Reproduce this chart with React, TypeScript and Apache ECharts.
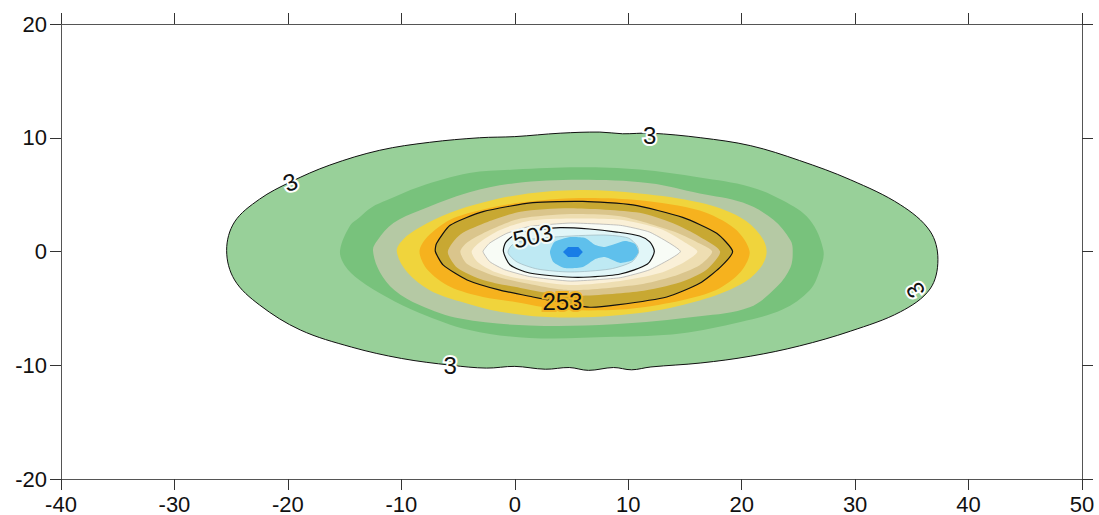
import React, { useEffect, useRef } from "react";
import * as echarts from "echarts";

// Axis ranges / ticks
const X_MIN = -40;
const X_MAX = 50;
const Y_MIN = -20;
const Y_MAX = 20;
const TICK_STEP = 10;

// Contour boundaries (data units), outer -> inner
const level3Outer: number[][] = [
  [-25.4, 0.1], [-24.7, 2.6], [-22.5, 4.6], [-19.8, 6.1], [-16.3, 7.6], [-11.9, 8.9], [-7.5, 9.6],
  [-3.1, 10.0], [0.0, 10.1], [4.0, 10.4], [7.5, 10.5], [9.5, 10.35], [12.0, 10.4], [16.4, 10.0],
  [20.8, 9.3], [25.1, 8.0], [29.6, 6.3], [34.0, 4.1], [36.6, 1.8], [37.3, -0.7], [36.6, -3.3],
  [34.0, -5.3], [29.6, -7.0], [25.1, -8.3], [20.8, -9.2], [16.4, -9.8], [12.0, -10.15], [10.3, -10.4],
  [8.7, -10.2], [6.5, -10.45], [4.8, -10.2], [2.7, -10.35], [0.0, -10.1], [-2.5, -10.25], [-5.6, -10.0],
  [-10.0, -9.4], [-14.4, -8.4], [-18.9, -6.9], [-22.5, -4.7], [-24.7, -2.5],
];
const bandMidGreen: number[][] = [
  [-15.4, 0.1], [-14.5, 2.3], [-13.7, 3.0], [-12.6, 3.9], [-11.3, 4.5], [-8.4, 5.7], [-4.0, 6.9],
  [0.0, 7.2], [5.7, 7.4], [11.0, 7.2], [16.3, 6.5], [20.7, 5.7], [23.6, 4.5], [26.0, 2.8],
  [27.2, 0.1], [26.9, -1.6], [26.0, -3.4], [23.6, -5.1], [19.9, -6.2], [14.6, -7.2], [8.7, -7.5],
  [1.3, -7.6], [-4.0, -6.9], [-8.4, -5.4], [-11.3, -4.0], [-13.7, -2.5], [-15.0, -1.2],
];
const bandGrey: number[][] = [
  [-12.5, 0.1], [-12.1, 1.0], [-10.7, 2.5], [-8.4, 3.6], [-4.0, 5.2], [0.0, 6.0], [5.7, 6.3],
  [11.9, 6.0], [16.3, 5.1], [20.1, 4.3], [22.8, 2.8], [24.3, 1.0], [24.5, 0.1], [24.3, -1.4],
  [23.1, -3.1], [20.7, -4.9], [16.3, -5.7], [8.7, -6.4], [1.3, -6.5], [-4.8, -5.9], [-8.4, -4.7],
  [-10.6, -3.4], [-11.9, -1.8],
];
const bandYellow: number[][] = [
  [-10.4, 0.0], [-9.9, 1.0], [-8.4, 2.1], [-5.7, 3.4], [-2.8, 4.3], [0.5, 5.0], [5.7, 5.4],
  [11.0, 5.1], [16.3, 4.3], [19.9, 3.0], [21.6, 1.5], [22.2, 0.0], [21.6, -1.5], [19.9, -2.9],
  [16.3, -4.3], [11.0, -5.4], [4.0, -5.8], [-1.3, -5.3], [-4.8, -4.4], [-7.5, -3.4], [-9.5, -1.8],
];
const bandOrange: number[][] = [
  [-8.4, 0.0], [-7.7, 1.3], [-5.7, 2.8], [-2.8, 3.7], [0.5, 4.3], [5.7, 4.7], [11.0, 4.5],
  [16.3, 3.6], [19.4, 2.0], [20.7, 0.0], [19.9, -1.8], [17.7, -3.4], [13.7, -4.5], [9.3, -5.1],
  [4.0, -5.1], [-0.2, -4.4], [-2.8, -4.0], [-5.7, -3.1], [-7.7, -1.6],
];
const level253: number[][] = [
  [-7.0, 0.0], [-6.9, 0.7], [-5.7, 2.3], [-2.8, 3.5], [1.6, 4.3], [6.0, 4.4], [10.4, 4.1],
  [14.8, 3.0], [17.8, 1.6], [19.2, 0.0], [18.1, -1.4], [16.3, -2.8], [13.4, -4.0], [9.0, -4.7],
  [6.6, -4.9], [4.2, -4.5], [1.6, -4.0], [-1.3, -3.4], [-4.2, -2.5], [-6.3, -1.2],
];
const bandTan: number[][] = [
  [-5.9, 0.0], [-4.8, 1.5], [-2.4, 2.6], [0.5, 3.5], [4.9, 3.8], [11.0, 3.4], [13.9, 2.5],
  [16.3, 1.3], [18.1, 0.0], [16.9, -1.6], [14.6, -2.7], [11.0, -3.5], [4.9, -3.9], [0.5, -3.2],
  [-2.8, -2.5], [-5.1, -1.4],
];
const bandLightTan: number[][] = [
  [-4.8, 0.0], [-4.2, 0.8], [-2.2, 1.9], [0.5, 2.9], [4.9, 3.3], [9.3, 3.1], [13.9, 1.8],
  [16.1, 0.8], [17.4, 0.0], [16.3, -1.2], [13.9, -2.2], [11.0, -2.9], [4.9, -3.4], [0.5, -2.7],
  [-1.9, -2.1], [-4.2, -1.1],
];
const bandCream: number[][] = [
  [-3.8, 0.0], [-3.1, 0.8], [-1.3, 1.9], [1.3, 2.7], [4.9, 2.9], [9.3, 2.8], [12.8, 2.0],
  [15.0, 0.8], [16.1, 0.0], [15.0, -0.9], [12.8, -1.9], [9.3, -2.6], [4.9, -2.95], [0.5, -2.4],
  [-1.75, -1.8], [-3.3, -0.9],
];
const bandWhite: number[][] = [
  [-2.8, 0.0], [-2.2, 0.75], [-0.7, 1.6], [1.3, 2.2], [4.9, 2.5], [9.3, 2.3], [11.9, 1.7],
  [14.6, 0.0], [11.9, -1.6], [9.3, -2.3], [4.9, -2.6], [1.3, -2.2], [-0.9, -1.6], [-2.2, -0.9],
];
const level503: number[][] = [
  [-1.0, 0.0], [-0.8, 0.8], [0.0, 1.45], [1.8, 1.9], [4.0, 2.1], [6.6, 1.98], [9.0, 1.71],
  [11.0, 1.36], [11.9, 0.84], [12.3, 0.0], [11.7, -1.1], [9.3, -1.98], [6.6, -2.24], [4.6, -2.24],
  [1.3, -1.89], [-0.4, -1.19],
];
const bandLightCyan: number[][] = [
  [-0.6, -0.1], [-0.25, 0.57], [0.9, 1.0], [3.4, 1.27], [7.8, 1.45], [10.0, 1.19], [10.8, 0.48],
  [10.9, -0.13], [10.3, -0.92], [8.4, -1.54], [4.9, -1.8], [2.0, -1.54], [0.2, -0.92],
];
const bandBlue: number[][] = [
  [3.1, -0.04], [3.5, 0.84], [4.9, 1.27], [6.2, 1.19], [7.1, 0.57], [7.95, 0.4], [9.7, 0.92],
  [10.6, 0.66], [10.9, -0.04], [10.4, -0.75], [9.3, -1.0], [7.95, -0.48], [7.1, -0.66], [6.0, -1.36],
  [4.4, -1.45], [3.4, -0.92],
];
const bandDarkBlue: number[][] = [
  [4.25, -0.04], [4.7, 0.4], [5.6, 0.4], [6.0, -0.04], [5.6, -0.48], [4.7, -0.48],
];

const bandPolygons = [
  level3Outer, bandMidGreen, bandGrey, bandYellow, bandOrange, level253, bandTan,
  bandLightTan, bandCream, bandWhite, level503, bandLightCyan, bandBlue, bandDarkBlue,
];

// Styles for the bands (same order)
const bandFills = [
  "#98D099", "#78C27C", "#B5C9A4", "#F0D43C", "#F6B21E", "#C8A832", "#DAC58C",
  "#EEDEB2", "#FAF0D7", "#F8FCF6", "#E1F6F8", "#BEE9F3", "#5FC0EC", "#197DE6",
];
const bandStrokes = [
  "#111", "none", "none", "none", "none", "#111", "none",
  "none", "none", "#A9A9A9", "#111", "#9FB8BE", "none", "none",
];
const bandLineWidths = [1, 0, 0, 0, 0, 1.2, 0, 0, 0, 0.7, 1.2, 0.7, 0, 0];
const bandSmooth = [0.35, 0.35, 0.35, 0.35, 0.3, 0.2, 0.25, 0.25, 0.25, 0.15, 0.25, 0.25, 0.2, 0];

// Contour labels
const labelTexts = ["3", "3", "3", "3", "503", "253"];
const labelX = [-19.8, 11.9, -5.7, 35.3, 1.6, 4.2];
const labelY = [6.1, 10.2, -10.0, -3.4, 1.36, -4.4];
const labelRotationDeg = [22, 0, 0, 120, 12, 0];
const labelHalo = ["#FFFFFF", "#FFFFFF", "#FFFFFF", "#FFFFFF", "#F2FAF7", "#F2B424"];

const FONT = "'Liberation Sans', Arial, sans-serif";

export default function App() {
  const ref = useRef<HTMLDivElement>(null);

  useEffect(() => {
    if (!ref.current) return;
    const chart = echarts.init(ref.current, undefined, { renderer: "svg" });

    const axisLine = { show: true, onZero: false, lineStyle: { color: "#555", width: 1 } };
    const axisTick = { show: true, inside: false, length: 11, lineStyle: { color: "#333", width: 1 } };

    const option: any = {
      animation: false,
      backgroundColor: "#ffffff",
      grid: { left: 61, right: 17, top: 24, bottom: 36 },
      xAxis: [
        {
          type: "value", position: "bottom", min: X_MIN, max: X_MAX, interval: TICK_STEP,
          axisLine, axisTick, splitLine: { show: false },
          axisLabel: { fontSize: 22, color: "#111", margin: 14, fontFamily: FONT, showMinLabel: true, showMaxLabel: true },
        },
        {
          type: "value", position: "top", min: X_MIN, max: X_MAX, interval: TICK_STEP,
          axisLine, axisTick, splitLine: { show: false }, axisLabel: { show: false },
        },
      ],
      yAxis: [
        {
          type: "value", position: "left", min: Y_MIN, max: Y_MAX, interval: TICK_STEP,
          axisLine, axisTick, splitLine: { show: false },
          axisLabel: { fontSize: 22, color: "#111", margin: 14, fontFamily: FONT, showMinLabel: true, showMaxLabel: true },
        },
        {
          type: "value", position: "right", min: Y_MIN, max: Y_MAX, interval: TICK_STEP,
          axisLine, axisTick, splitLine: { show: false }, axisLabel: { show: false },
        },
      ],
      series: [
        {
          type: "custom",
          xAxisIndex: 0,
          yAxisIndex: 0,
          silent: true,
          data: bandPolygons.map((_, i) => [0, 0, i]),
          renderItem: (params: any, api: any) => {
            const i = params.dataIndex;
            const pts = bandPolygons[i].map((p) => api.coord(p));
            return {
              type: "polygon",
              shape: { points: pts, smooth: bandSmooth[i] },
              style: {
                fill: bandFills[i],
                stroke: bandStrokes[i],
                lineWidth: bandLineWidths[i],
              },
            };
          },
        },
        {
          type: "custom",
          xAxisIndex: 0,
          yAxisIndex: 0,
          silent: true,
          data: labelTexts.map((_, i) => [labelX[i], labelY[i], i]),
          renderItem: (params: any, api: any) => {
            const i = params.dataIndex;
            const c = api.coord([api.value(0), api.value(1)]);
            return {
              type: "text",
              x: c[0],
              y: c[1],
              rotation: (labelRotationDeg[i] * Math.PI) / 180,
              style: {
                text: labelTexts[i],
                font: `24px ${FONT}`,
                fill: "#111",
                align: "center",
                verticalAlign: "middle",
                stroke: labelHalo[i],
                lineWidth: 4,
                strokeFirst: true,
              },
            };
          },
        },
      ],
    };

    chart.setOption(option);
    return () => chart.dispose();
  }, []);

  return (
    <div
      ref={ref}
      style={{ position: "fixed", left: 0, top: 0, width: 1099, height: 515, background: "#fff" }}
    />
  );
}
